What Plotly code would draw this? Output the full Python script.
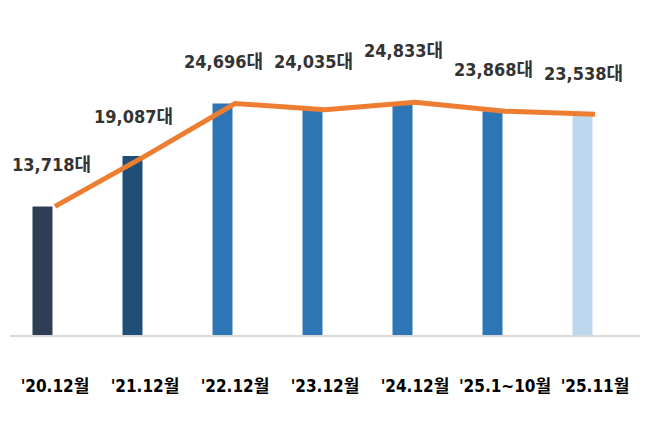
import plotly.graph_objects as go

categories = ["'20.12월", "'21.12월", "'22.12월", "'23.12월", "'24.12월", "'25.1~10월", "'25.11월"]
values = [13718, 19087, 24696, 24035, 24833, 23868, 23538]
value_labels = ["13,718대", "19,087대", "24,696대", "24,035대", "24,833대", "23,868대", "23,538대"]

bar_colors = ["#2F3E55", "#1F4E79", "#2E75B6", "#2E75B6", "#2E75B6", "#2E75B6", "#BDD7EE"]
label_yshift = [42, 40, 42, 48, 52, 42, 41]
label_xshift = [-4, -12, -12, -12, -12, -12, -12]

FONT = "DejaVu Sans Condensed, Liberation Sans Narrow, Noto Sans CJK KR, sans-serif"

fig = go.Figure()
fig.add_trace(go.Bar(
    x=categories, y=values,
    marker=dict(color=bar_colors, line=dict(width=0)),
    width=0.222, offset=-0.25,
    hoverinfo="skip", showlegend=False,
))
fig.add_trace(go.Scatter(
    x=categories, y=values, mode="lines",
    line=dict(color="#ED7D31", width=5),
    hoverinfo="skip", showlegend=False,
))

for c, v, t, s, xs in zip(categories, values, value_labels, label_yshift, label_xshift):
    fig.add_annotation(
        x=c, y=v, text=t, showarrow=False,
        xshift=xs, yshift=s, yanchor="middle", xanchor="center",
        font=dict(family=FONT, size=18, color="#333333", weight="bold"),
    )

fig.update_layout(
    width=650, height=429,
    margin=dict(l=2, r=18, t=12, b=102),
    paper_bgcolor="white", plot_bgcolor="white",
    xaxis=dict(
        type="category", range=[-0.5, 6.5],
        showline=True, linecolor="#D9D9D9", linewidth=1.5,
        showgrid=False, zeroline=False, ticks="",
        tickangle=0, automargin=False,
        ticklabelstandoff=35,
        tickfont=dict(family=FONT, size=17, color="#000000", weight="bold"),
    ),
    yaxis=dict(range=[0, 33600], visible=False, showgrid=False, zeroline=False),
)

fig.write_html("out.html")
